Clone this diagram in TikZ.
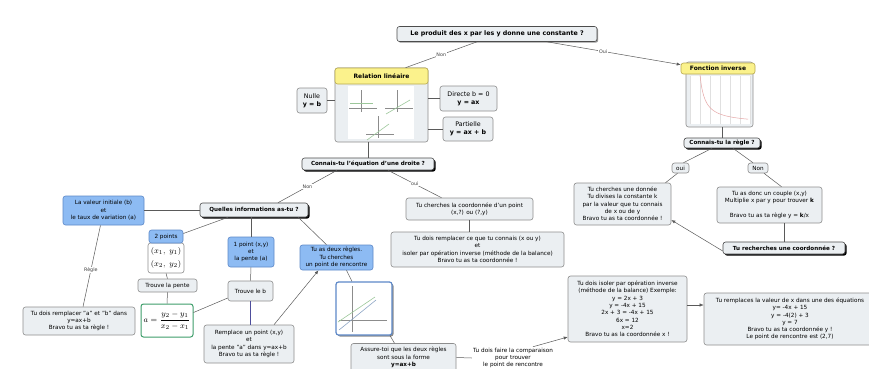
\documentclass[tikz,border=0pt]{standalone}
\usepackage{fontspec}
\setmainfont{DejaVu Sans}
\usetikzlibrary{positioning,shadows,arrows.meta}

\definecolor{boxfill}{HTML}{EBEFF2}
\definecolor{boxdraw}{HTML}{8E8E8E}
\definecolor{bluefill}{HTML}{8DBBF3}
\definecolor{bluedraw}{HTML}{5D88C8}
\definecolor{headfill}{HTML}{FBF28C}
\definecolor{headdraw}{HTML}{B9AA4E}
\definecolor{linkcol}{HTML}{5A5A5A}
\definecolor{slopegreen}{HTML}{3E9E6A}
\definecolor{bpurple}{HTML}{4E4E9C}
\definecolor{plotgreen}{HTML}{9CC79A}
\definecolor{plotblue}{HTML}{8EA6C6}
\definecolor{curvepink}{HTML}{E6A7A7}

\tikzset{
 txt/.style={font=\fontsize{5.7}{7.3}\selectfont},
 box/.style={txt, draw=boxdraw, fill=boxfill, rounded corners=2.5pt, line width=0.6pt, align=center, inner sep=1pt},
 bigbox/.style={box, font=\fontsize{6.3}{8}\selectfont},
 bluebox/.style={box, fill=bluefill, draw=bluedraw},
 headbox/.style={box, fill=headfill, draw=headdraw, font=\bfseries\fontsize{6}{7}\selectfont},
 asking/.style={box, draw=black!70, font=\bfseries\fontsize{5.6}{7}\selectfont},
 question/.style={asking, drop shadow={shadow xshift=1.6pt, shadow yshift=-1.6pt, fill=black, opacity=1}},
 link/.style={draw=linkcol, line width=0.5pt},
 arrow/.style={link, -{Latex[length=4pt, width=3.2pt]}},
 linklabel/.style={fill=white, inner sep=0.6pt, text=black!75, font=\fontsize{4.8}{5}\selectfont},
 axis/.style={draw=black!45, line width=0.3pt},
 pics/minigraph/.style args={#1 to #2}{
  % small axes with one straight line
  code={
   \draw [axis] (-12, 0) -- (16, 0);
   \draw [axis] (0, -18) -- (0, 4);
   \draw [plotgreen, line width=0.6pt] (#1) -- (#2);
  }
 }
}

\begin{document}
\begin{tikzpicture}[x=1pt, y=-1pt]
 \fill [white] (0, 0) rectangle (869, 368);
 \useasboundingbox (0, 0) rectangle (869, 368);
 \clip (0, 0) rectangle (869, 368);

 \node [asking, minimum width=200, minimum height=15, font=\bfseries\fontsize{6.3}{7}\selectfont,
   drop shadow={shadow xshift=1.2pt, shadow yshift=-1.2pt, fill=black!40, opacity=1}] (q_top) at (497, 34)
   {Le produit des x par les y donne une constante ?};

 % linear branch
 \node [box, minimum width=93, minimum height=74] (rel_body) at (381.5, 105) {};
 \node [headbox, minimum width=93, minimum height=16, anchor=north] (rel_head) at (rel_body.north) {Relation linéaire};
 \fill [white] (348, 86) rectangle (414, 139);
 \path (361, 108) pic {minigraph={-11,-5 to 12,-5}};
 \path (397, 108) pic {minigraph={-11,6 to 13,-8}};
 \path (378, 134) pic {minigraph={-11,6 to 11,-10}};

 \node [bigbox, minimum width=30, minimum height=25] (nulle) at (312, 100.5) {Nulle\\\textbf{y = b}};
 \node [bigbox, minimum width=57, minimum height=25] (directe) at (468.5, 98.5) {Directe b = 0\\\textbf{y = ax}};
 \node [bigbox, minimum width=50, minimum height=24] (partielle) at (468, 129) {Partielle\\\textbf{y = ax + b}};
 \node [question, minimum width=132, minimum height=12] (q_eq) at (368, 164) {Connais-tu l'équation d'une droite ?};

 \draw [link] ([xshift=-20pt]q_top.south) -- node [linklabel] {Non} ([xshift=24pt]rel_head.north);
 \draw [link] (nulle.east) -- (nulle.east -| rel_body.west);
 \draw [link] (directe.west) -- (directe.west -| rel_body.east);
 \draw [link] (partielle.west) -- (partielle.west -| rel_body.east);
 \draw [link] (q_eq.north) -- (q_eq.north |- rel_body.south);

 % inverse branch
 \node [box, minimum width=67, minimum height=65] (inv_body) at (719.5, 94.5) {};
 \node [headbox, minimum width=74, minimum height=11] (inv_head) at (718, 68.5) {Fonction inverse};
 \fill [white] (690, 76) rectangle (750, 124);
 \draw [black!12, line width=0.3pt] (690, 76) grid [step=10] (750, 124);
 \draw [curvepink, line width=0.5pt] plot [domain=700:748, samples=40, smooth] (\x, {123.75-243.75/(\x-695)});

 \node [question, minimum width=76, minimum height=10] (q_rule) at (722, 143) {Connais-tu la règle ?};
 \node [box, minimum width=17, minimum height=10] (oui_box) at (680.5, 168) {oui};
 \node [box, minimum width=20, minimum height=10] (non_box) at (758, 168) {Non};
 \node [box, minimum width=97, minimum height=42] (k_div) at (622.5, 204)
   {Tu cherches une donnée\\Tu divises la constante k\\par la valeur que tu connais\\de x ou de y\\Bravo tu as ta coordonnée !};
 \node [box, minimum width=105, minimum height=36] (k_find) at (769.5, 205)
   {Tu as donc un couple (x,y)\\Multiplie x par y pour trouver \textbf{k}\\[7.3pt]Bravo tu as ta règle y = \textbf{k}/x};
 \node [question, minimum width=122, minimum height=12] (q_coord) at (784, 248) {Tu recherches une coordonnée ?};

 \draw [arrow] ([xshift=50pt]q_top.south) -- node [linklabel, pos=0.42] {Oui} ([yshift=-2pt]inv_head.north west);
 \draw [link] (q_rule.north) -- (q_rule.north |- inv_body.south);
 \draw [link] ([xshift=-10pt]q_rule.south) -- ([xshift=3pt]oui_box.north);
 \draw [link] ([xshift=11pt]q_rule.south) -- ([xshift=-5pt]non_box.north);
 \draw [link] ([xshift=-3pt]oui_box.south) -- ([xshift=43pt]k_div.north);
 \draw [link] ([xshift=6pt]non_box.south) -- ([xshift=12pt]k_find.north);
 \draw [link] ([xshift=14.5pt]k_find.south) -- ([xshift=14.5pt]k_find.south |- q_coord.north);
 \draw [arrow] ([yshift=-3pt]q_coord.west) -- ([yshift=-16pt]k_div.east);

 % which information
 \node [question, minimum width=108, minimum height=14] (q_info) at (254, 210) {Quelles informations as-tu ?};
 \node [box, minimum width=127, minimum height=22] (coord_pt) at (469.5, 209)
   {Tu cherches la coordonnée d'un point\\(x,?) ou (?,y)};
 \node [box, minimum width=173, minimum height=35] (coord_iso) at (477.5, 249.5)
   {Tu dois remplacer ce que tu connais (x ou y)\\et\\isoler par opération inverse (méthode de la balance)\\Bravo tu as ta coordonnée !};

 \draw [link] ([xshift=-31pt]q_eq.south) -- node [linklabel] {Non} ([xshift=24pt]q_info.north);
 \draw [link] ([xshift=20pt]q_eq.south) -- node [linklabel] {oui} ([xshift=-28pt]coord_pt.north);
 \draw [link] (coord_pt.south) -- (coord_pt.south |- coord_iso.north);

 \node [bluebox, minimum width=81, minimum height=29] (init_val) at (103.5, 210.5)
   {La valeur initiale (b)\\et\\le taux de variation (a)};
 \node [box, minimum width=112, minimum height=28] (rule_ab) at (79, 321)
   {Tu dois remplacer "a" et "b" dans\\y=ax+b\\Bravo tu as ta règle !};

 \node [box, fill=white, minimum width=36, minimum height=30, font=\fontsize{8}{13}\selectfont] (two_body) at (166, 258)
   {$(x_1,\ y_1)$\\$(x_2,\ y_2)$};
 \node [bluebox, minimum width=34, minimum height=13] (two_head) at (166, 236.5) {2 points};
 \node [box, minimum width=59, minimum height=13] (find_slope) at (167.5, 285.5) {Trouve la pente};
 \node [box, fill=white, draw=slopegreen, line width=1pt, minimum width=52, minimum height=33, font=\fontsize{8.5}{10}\selectfont] (slope) at (167, 320.5)
   {$a=\displaystyle\frac{y_2-y_1}{x_2-x_1}$};

 \node [bluebox, minimum width=46, minimum height=30] (one_pt) at (251, 252) {1 point (x,y)\\et\\la pente (a)};
 \node [box, minimum width=45, minimum height=20] (find_b) at (250.5, 291) {Trouve le b};
 \node [box, minimum width=90, minimum height=38] (replace) at (249, 344)
   {Remplace un point (x,y)\\et\\la pente "a" dans y=ax+b\\Bravo tu as ta règle !};

 \draw [link] (q_info.west) -- (q_info.west -| init_val.east);
 \draw [link] ([xshift=-3pt]init_val.south) -- node [linklabel, pos=0.55] {Règle} ([xshift=4pt]rule_ab.north);
 \draw [link] ([xshift=-26pt]q_info.south) -- ([yshift=3pt]two_head.east);
 \draw [link] (two_body.south) -- (find_slope.north);
 \draw [link] (find_slope.south) -- (slope.north);
 \draw [link] (one_pt.north) -- (one_pt.north |- q_info.south);
 \draw [link] (one_pt.south) -- (find_b.north);
 \draw [link] ([yshift=-7pt]find_b.west) -- ([yshift=8pt]slope.east);
 \draw [bpurple, line width=1pt] (find_b.south) -- (find_b.south |- replace.north);

 % two rules
 \node [bluebox, minimum width=73, minimum height=25] (two_rules) at (336.5, 257.5)
   {Tu as deux règles.\\Tu cherches\\un point de rencontre};
 \node [box, fill=white, draw=bluedraw, line width=1.2pt, minimum width=56, minimum height=53,
   drop shadow={shadow xshift=1.5pt, shadow yshift=-1.5pt, fill=black!45, opacity=1}] (graph) at (364, 308.5) {};
 \draw [axis] (339, 320) -- (387, 320);
 \draw [axis] (352, 286) -- (352, 332);
 \draw [plotgreen, line width=0.6pt] (338, 322) -- (375, 297);
 \draw [plotblue, line width=0.6pt] (339, 330) -- (376, 300);

 \node [box, minimum width=105, minimum height=28] (check_form) at (403.5, 357.5)
   {Assure-toi que les deux règles\\sont sous la forme\\\textbf{y=ax+b}};
 \node [txt, align=center, inner sep=1pt] (compare) at (513, 358)
   {Tu dois faire la comparaison\\pour trouver\\le point de rencontre};
 \node [box, minimum width=119, minimum height=66] (iso_x) at (627.5, 309)
   {Tu dois isoler par opération inverse\\(méthode de la balance) Exemple:\\y = 2x + 3\\y = -4x + 15\\2x + 3 = -4x + 15\\6x = 12\\x=2\\Bravo tu as la coordonnée x !};
 \node [box, minimum width=172, minimum height=52] (replace_x) at (790, 319)
   {Tu remplaces la valeur de x dans une des équations\\y= -4x + 15\\y = -4(2) + 3\\y = 7\\Bravo tu as ta coordonnée y !\\Le point de rencontre est (2,7)};

 \draw [link] ([xshift=-10pt]q_info.south east) -- ([xshift=-10pt]two_rules.north);
 \draw [arrow] ([xshift=25pt]replace.north) -- ([xshift=-18pt]two_rules.south);
 \draw [link] ([xshift=10pt]two_rules.south) -- ([xshift=-12pt]graph.north);
 \draw [link] ([xshift=26pt]graph.south) -- ([xshift=-9pt]check_form.north);
 \draw [link] (check_form.east) -- (compare.west);
 \draw [arrow] ([xshift=20pt]compare.north) -- ([yshift=-28pt]iso_x.west);
 \draw [arrow] ([yshift=4pt]iso_x.east) -- ([yshift=4pt]iso_x.east -| replace_x.west);
\end{tikzpicture}
\end{document}
